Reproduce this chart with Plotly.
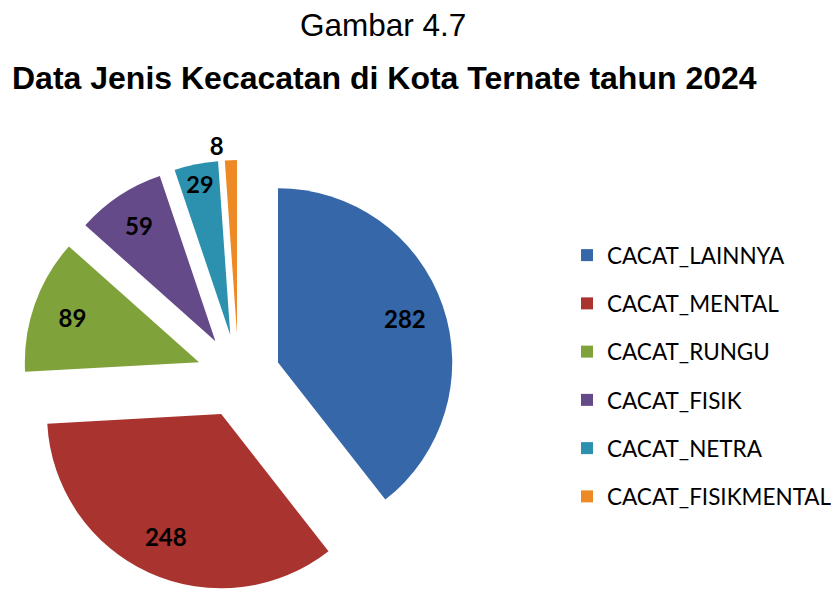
import plotly.graph_objects as go

categories = ["CACAT_LAINNYA", "CACAT_MENTAL", "CACAT_RUNGU", "CACAT_FISIK", "CACAT_NETRA", "CACAT_FISIKMENTAL"]
values = [282, 248, 89, 59, 29, 8]
colors = ["#3567a9", "#a8332f", "#7fa23a", "#654a8a", "#2b91ae", "#ee8a26"]
title_top = "Gambar 4.7"
title_main = "Data Jenis Kecacatan di Kota Ternate tahun 2024"

# the page is rendered with an 8px body margin; positions below compensate for it
OFF = 8
W, H = 839, 592
pie_domain = dict(x=[(238.5 - 216 - OFF) / W, (238.5 + 216 - OFF) / W],
                  y=[(H - (376 + 216 - OFF)) / H, (H - (376 - 216 - OFF)) / H])

fig = go.Figure()
# the slices
fig.add_trace(go.Pie(
    labels=categories, values=values,
    marker=dict(colors=colors, line=dict(width=0)),
    sort=False, direction="clockwise", rotation=0,
    pull=[0.24] * len(values),
    textinfo="none",
    domain=pie_domain, showlegend=False, hoverinfo="skip",
))
# transparent ring carrying the value labels (places them near the outer edge)
fig.add_trace(go.Pie(
    labels=categories, values=values,
    marker=dict(colors=["rgba(0,0,0,0)"] * len(values), line=dict(width=0)),
    sort=False, direction="clockwise", rotation=0, hole=0.54,
    pull=[0.24] * len(values),
    textinfo="value",
    textposition=["inside"] * 5 + ["outside"],
    insidetextorientation="horizontal",
    textfont=dict(family="Lato", size=24, color="black", weight="bold"),
    domain=pie_domain, showlegend=False, hoverinfo="skip",
))

for name, col in zip(categories, colors):
    fig.add_trace(go.Scatter(
        x=[None], y=[None], mode="markers", name=name, legendgroup=name,
        marker=dict(symbol="square", size=15, color=col),
    ))

fig.add_annotation(text=title_top, x=(383 - OFF) / W, y=1 - (25 - OFF) / H, xref="paper", yref="paper",
                   yanchor="middle", xanchor="center",
                   showarrow=False, font=dict(family="Liberation Sans", size=31.5, color="black"))
fig.add_annotation(text="<b>" + title_main + "</b>", x=(384 - OFF) / W, y=1 - (78 - OFF) / H,
                   xref="paper", yref="paper", yanchor="middle", xanchor="center",
                   showarrow=False, font=dict(family="Liberation Sans", size=32, color="black"))

fig.update_layout(
    width=W, height=H,
    margin=dict(l=0, r=0, t=0, b=0, autoexpand=False),
    paper_bgcolor="white", plot_bgcolor="white",
    xaxis=dict(visible=False), yaxis=dict(visible=False),
    legend=dict(x=(567 - OFF) / W, y=1 - (238 - OFF - 4) / H, xanchor="left", yanchor="top",
                font=dict(family="Lato", size=22.5, color="black"),
                tracegroupgap=16, itemsizing="constant", bgcolor="rgba(0,0,0,0)"),
)

fig.write_html("out.html")
